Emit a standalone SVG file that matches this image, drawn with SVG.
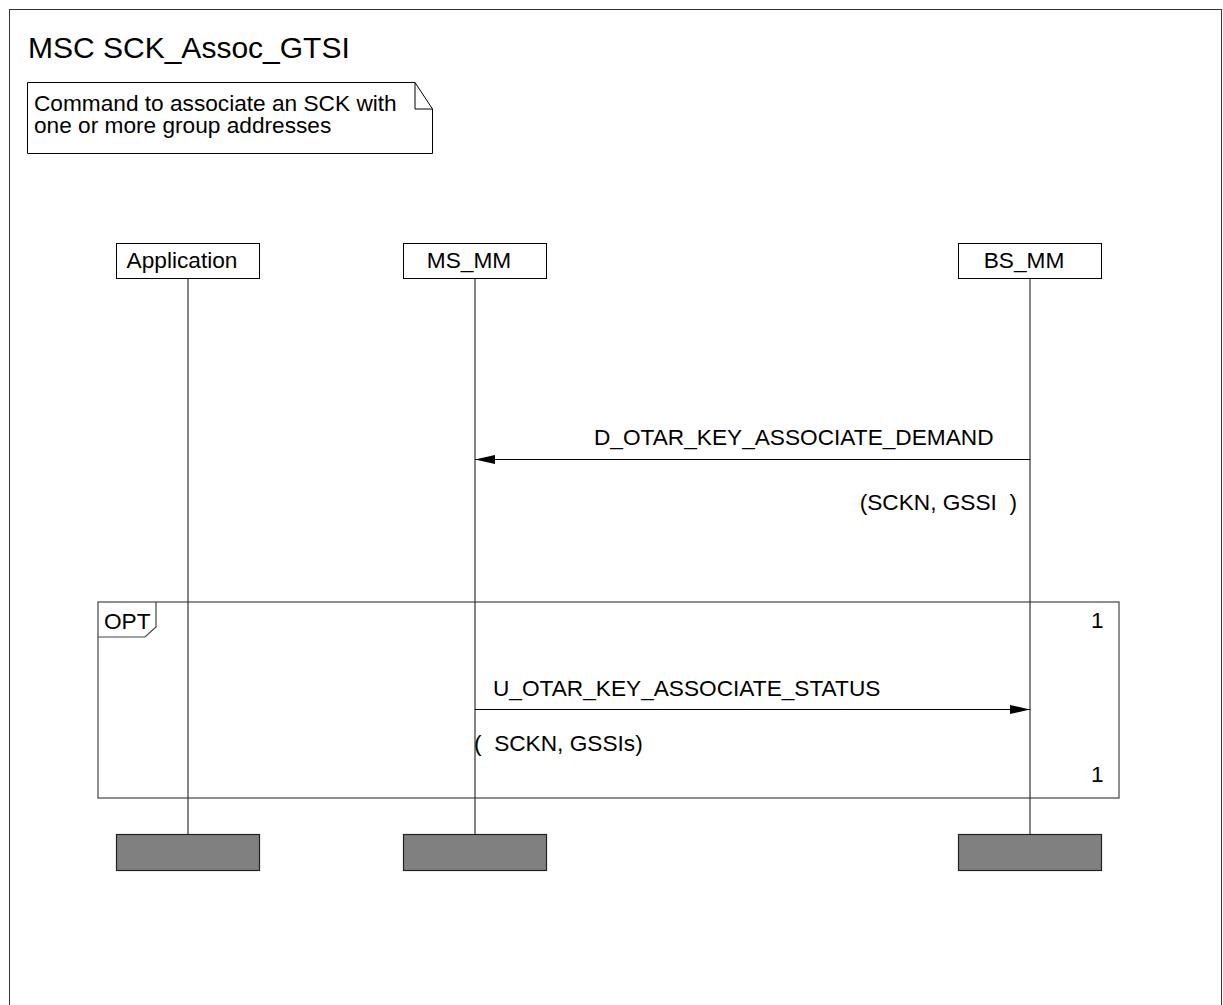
<svg xmlns="http://www.w3.org/2000/svg" width="1223" height="1005" viewBox="0 0 1223 1005">
<style>
text{font-family:"Liberation Sans",Arial,sans-serif;font-size:22.67px;fill:#000}
.title{font-size:30px}
.box{fill:#fff;stroke:#000;stroke-width:1}
.end{fill:#808080;stroke:#222;stroke-width:1.2}
.life{stroke:#333;stroke-width:1.2;fill:none}
.msg{stroke:#000;stroke-width:1;fill:none}
.frame{fill:none;stroke:#444;stroke-width:1.2}
.pre{white-space:pre}
</style>
<defs>
<marker id="ah" markerWidth="20" markerHeight="9" refX="20" refY="4.5" orient="auto" markerUnits="userSpaceOnUse">
<path d="M0,0 L20,4.5 L0,9 Z" fill="#000"/>
</marker>
</defs>
<rect x="9.5" y="9.5" width="1212" height="1010" fill="#fff" stroke="#333" stroke-width="1"/>
<text class="title" x="28" y="58">MSC SCK_Assoc_GTSI</text>
<g id="note">
<path class="box" d="M27.5,82.5 H415 L432.5,109 V153.5 H27.5 Z"/>
<path d="M415,82.5 V109 H432.5" fill="none" stroke="#000" stroke-width="1"/>
<text x="34" y="111">Command to associate an SCK with</text>
<text x="34" y="133">one or more group addresses</text>
</g>
<g id="opt">
<rect class="frame" x="98" y="602" width="1021" height="196"/>
<path class="frame" d="M98,637 H145 L156,627 V602"/>
<text x="104" y="629">OPT</text>
<text x="1091" y="628">1</text>
<text x="1091" y="782">1</text>
</g>
<g id="Application">
<line class="life" x1="188" y1="279" x2="188" y2="835"/>
<rect class="box" x="116.5" y="243.5" width="143" height="35"/>
<text x="182" y="268" text-anchor="middle">Application</text>
<rect class="end" x="116.5" y="834.5" width="143" height="36"/>
</g>
<g id="MS_MM">
<line class="life" x1="475" y1="279" x2="475" y2="835"/>
<rect class="box" x="403.5" y="243.5" width="143" height="35"/>
<text x="469" y="268" text-anchor="middle">MS_MM</text>
<rect class="end" x="403.5" y="834.5" width="143" height="36"/>
</g>
<g id="BS_MM">
<line class="life" x1="1030" y1="279" x2="1030" y2="835"/>
<rect class="box" x="958.5" y="243.5" width="143" height="35"/>
<text x="1024" y="268" text-anchor="middle">BS_MM</text>
<rect class="end" x="958.5" y="834.5" width="143" height="36"/>
</g>
<g id="connectors">
<line class="msg" x1="1030" y1="459.5" x2="475" y2="459.5" marker-end="url(#ah)"/>
<text x="594" y="445">D_OTAR_KEY_ASSOCIATE_DEMAND</text>
<text class="pre" x="1017" y="510" text-anchor="end">(SCKN, GSSI  )</text>
<line class="msg" x1="475" y1="709.5" x2="1030" y2="709.5" marker-end="url(#ah)"/>
<text x="493" y="696">U_OTAR_KEY_ASSOCIATE_STATUS</text>
<text class="pre" x="474" y="751">(  SCKN, GSSIs)</text>
</g>
</svg>
